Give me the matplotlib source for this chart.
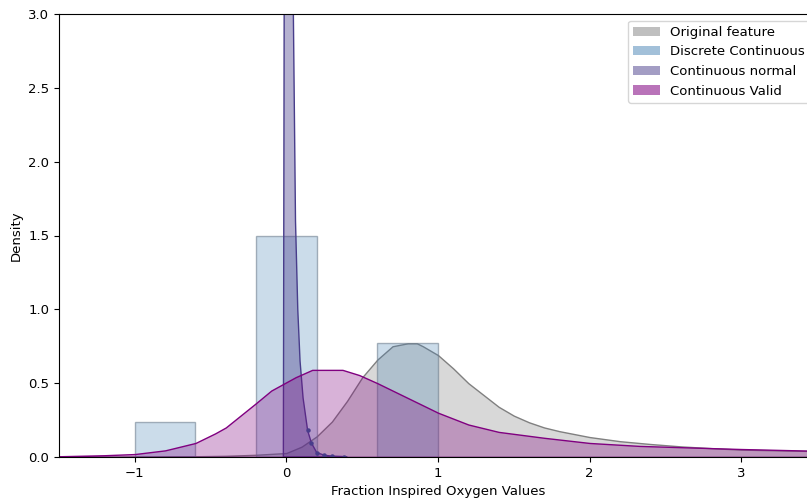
import numpy as np
import matplotlib
matplotlib.use('Agg')
import matplotlib.pyplot as plt
from matplotlib.colors import to_rgba
from matplotlib.patches import Patch

# original feature density (grey)
orig_x = [-1.5, -1.0, -0.6, -0.4, -0.2, 0.0, 0.1, 0.2, 0.3, 0.4, 0.5, 0.6, 0.7, 0.8, 0.86, 0.9, 1.0,
          1.1, 1.2, 1.3, 1.4, 1.5, 1.6, 1.7, 1.8, 2.0, 2.2, 2.4, 2.6, 2.8, 3.0, 3.2, 3.5]
orig_y = [0.0, 0.002, 0.005, 0.008, 0.015, 0.027, 0.07, 0.14, 0.24, 0.38, 0.54, 0.66, 0.75, 0.77, 0.77, 0.75, 0.69,
          0.60, 0.50, 0.42, 0.34, 0.28, 0.235, 0.20, 0.175, 0.135, 0.107, 0.088, 0.072, 0.06, 0.05, 0.046, 0.04]

# discrete continuous histogram
bin_left = [-1.0, -0.2, 0.6]
bin_width = 0.4
bin_height = [0.24, 1.5, 0.77]

# continuous normal density (sharp spike near zero)
norm_x = [-0.02, -0.013, 0.0, 0.02, 0.046, 0.06, 0.075, 0.09, 0.11, 0.14, 0.165, 0.2, 0.25, 0.3, 0.38, 0.4]
norm_y = [0.0, 4.0, 5.0, 4.2, 3.0, 1.6, 1.0, 0.65, 0.4, 0.18, 0.095, 0.03, 0.012, 0.006, 0.003, 0.0]

# continuous valid density
valid_x = [-1.5, -1.2, -1.0, -0.8, -0.6, -0.47, -0.4, -0.2, -0.1, 0.06, 0.17, 0.37, 0.48, 0.6, 0.8, 1.0,
           1.2, 1.4, 1.7, 2.0, 2.33, 3.0, 3.5]
valid_y = [0.005, 0.012, 0.02, 0.045, 0.095, 0.16, 0.2, 0.365, 0.45, 0.54, 0.59, 0.59, 0.555, 0.5, 0.4, 0.30,
           0.22, 0.17, 0.13, 0.095, 0.075, 0.054, 0.042]

labels = ['Original feature', 'Discrete Continuous', 'Continuous normal', 'Continuous Valid']

plt.rcParams['font.size'] = 9.5
fig = plt.figure(figsize=(8.07, 5.04), dpi=100)
ax = fig.add_axes([59 / 807, 1 - 457 / 504, 758 / 807, 443 / 504])

ax.fill_between(orig_x, orig_y, facecolor=to_rgba('grey', 0.3), edgecolor='grey', linewidth=1)

ax.bar(bin_left, bin_height, width=bin_width, align='edge',
       facecolor=to_rgba('steelblue', 0.28), edgecolor=to_rgba('slategrey', 0.6), linewidth=1)

ax.fill_between(norm_x, norm_y, facecolor=to_rgba('darkslateblue', 0.4), edgecolor='darkslateblue', linewidth=1)
nx = np.array(norm_x)
ny = np.array(norm_y)
tail = (nx >= 0.14) & (nx < 0.4)
ax.plot(nx[tail], ny[tail], 'o', color='darkslateblue', ms=2.2)

ax.fill_between(valid_x, valid_y, facecolor=to_rgba('purple', 0.3), edgecolor='purple', linewidth=1)

ax.set_xlim(-1.5, 3.5)
ax.set_ylim(0, 3)
ax.set_xticks([-1, 0, 1, 2, 3])
ax.set_yticks(np.arange(0, 3.01, 0.5))
ax.set_ylabel('Density')
ax.set_xlabel('Fraction Inspired Oxygen Values')

handles = [Patch(facecolor=to_rgba('grey', 0.5)),
           Patch(facecolor=to_rgba('steelblue', 0.5)),
           Patch(facecolor=to_rgba('darkslateblue', 0.5)),
           Patch(facecolor=to_rgba('purple', 0.55))]
ax.legend(handles, labels, loc='upper right')

fig.savefig('out.png', dpi=100)
